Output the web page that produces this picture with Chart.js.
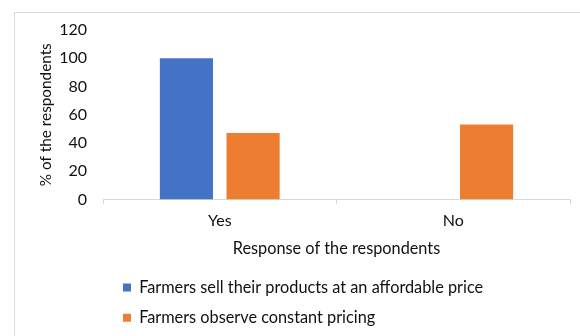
<!DOCTYPE html>
<html>
<head>
<meta charset="utf-8">
<script src="https://cdn.jsdelivr.net/npm/chart.js@4/dist/chart.umd.min.js"></script>
<style>
  html, body { margin: 0; padding: 0; background: #fff; overflow: hidden; }
  #frame { position: absolute; left: 14px; top: 12px; width: 640px; height: 400px; border: 1px solid #d9d9d9; box-sizing: border-box; }
  #wrap { position: absolute; left: 0; top: 0; width: 580px; height: 336px; }
</style>
</head>
<body>
<div id="frame"></div>
<div id="wrap"><canvas id="c" width="580" height="336"></canvas></div>
<script>
const categories = ["Yes", "No"];
const seriesNames = ["Farmers sell their products at an affordable price", "Farmers observe constant pricing"];
const affordablePrice = [100, 0];
const constantPricing = [47, 53];
const yTicks = [0, 20, 40, 60, 80, 100, 120];
const xTitle = "Response of the respondents";
const yTitle = "% of the respondents";

const FONT = "Lato, 'Open Sans', sans-serif";
const TXT = "#111111";

const shiftLegend = {
  id: 'shiftLegend',
  afterLayout(chart) {
    if (chart.legend) { chart.legend.left = 109; }
  }
};

new Chart(document.getElementById('c'), {
  type: 'bar',
  data: {
    labels: categories,
    datasets: [
      { label: seriesNames[0], data: affordablePrice, backgroundColor: '#4472C4', categoryPercentage: 0.571, barPercentage: 0.797 },
      { label: seriesNames[1], data: constantPricing, backgroundColor: '#ED7D31', categoryPercentage: 0.571, barPercentage: 0.797 }
    ]
  },
  options: {
    responsive: false,
    animation: false,
    devicePixelRatio: 1,
    layout: { padding: { left: 0, right: 10, top: 30, bottom: 0 } },
    plugins: {
      legend: {
        position: 'bottom',
        align: 'start',
        labels: {
          boxWidth: 8, boxHeight: 8, padding: 14,
          color: TXT,
          font: { family: FONT, size: 16.3 }
        }
      },
      tooltip: { enabled: false }
    },
    scales: {
      x: {
        grid: { display: true, drawOnChartArea: false, drawTicks: true, tickLength: 5, color: '#d9d9d9', offset: true },
        border: { display: true, color: '#d9d9d9', width: 1 },
        ticks: { color: TXT, font: { family: FONT, size: 16 }, padding: 7 },
        title: { display: true, text: xTitle, color: TXT, font: { family: FONT, size: 16.3 }, padding: { top: 4, bottom: 7 } },
        afterFit(scale) { scale.height = 66; }
      },
      y: {
        min: 0, max: 120,
        afterBuildTicks(scale) { scale.ticks = yTicks.map(v => ({ value: v })); },
        grid: { display: false, drawTicks: false },
        border: { display: false },
        ticks: { color: TXT, font: { family: FONT, size: 16 }, padding: 16 },
        title: { display: true, text: yTitle, color: TXT, font: { family: FONT, size: 15.3 }, padding: { top: 37, bottom: 0 } },
        afterFit(scale) { scale.width = 103; }
      }
    }
  },
  plugins: [shiftLegend]
});
</script>
</body>
</html>
